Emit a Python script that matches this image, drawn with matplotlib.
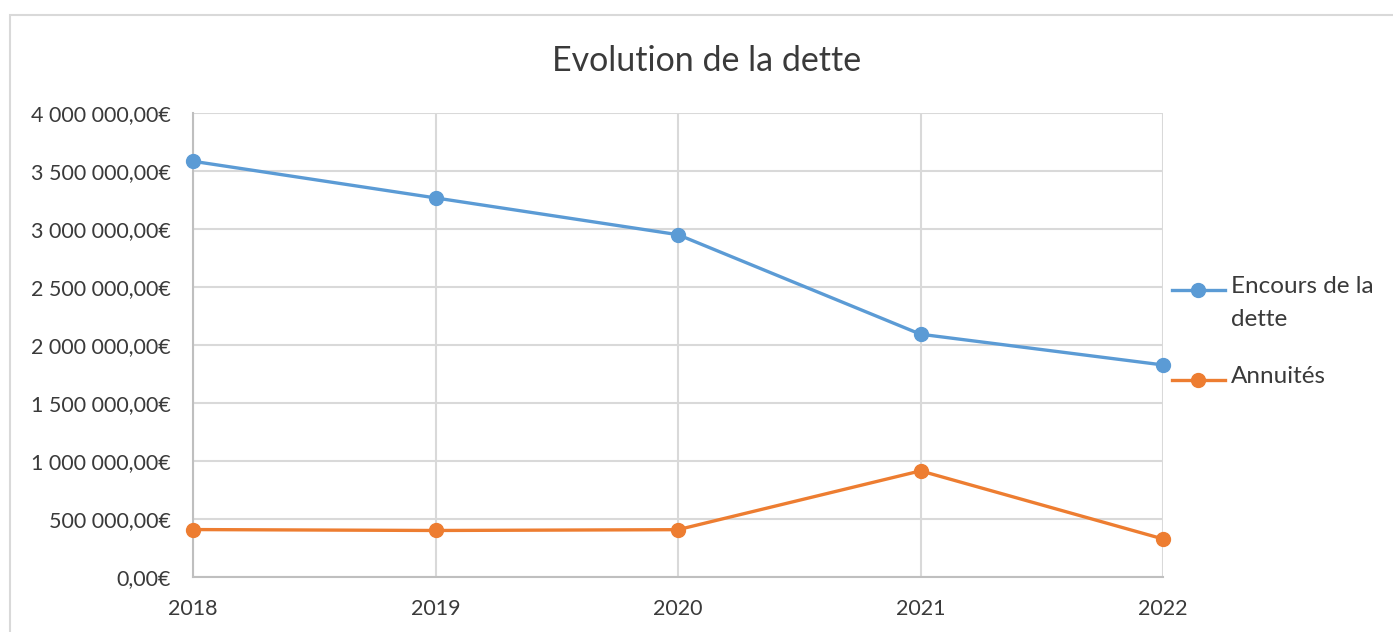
import matplotlib
matplotlib.use('Agg')
import matplotlib.pyplot as plt
from matplotlib.lines import Line2D
from matplotlib.patches import Rectangle
from matplotlib.ticker import FuncFormatter

# data
years = [2018, 2019, 2020, 2021, 2022]
encours = [3584000, 3268000, 2951000, 2093000, 1828000]
annuites = [409000, 401000, 408000, 915000, 328000]
series_names = ['Encours de la\ndette', 'Annuités']
y_ticks = [0, 500000, 1000000, 1500000, 2000000, 2500000, 3000000, 3500000, 4000000]

BLUE = '#5B9BD5'
ORANGE = '#ED7D31'
GRID = '#D9D9D9'
TEXT = '#3A3A3A'

plt.rcParams['font.family'] = ['Lato', 'DejaVu Sans']


def euro_fmt(v, pos):
    # french style: space for thousands, comma for decimals
    s = '{:,.2f}'.format(v).replace(',', ' ').replace('.', ',')
    return s + '€'


fig = plt.figure(figsize=(13.93, 6.32), dpi=100)
W, H = 1393, 632
ax = fig.add_axes([193 / W, 1 - 577 / H, (1163 - 193) / W, (577 - 113) / H])

# outer chart border (cut off on the right and bottom)
fig.add_artist(Rectangle((9.5 / W, -0.1), 1.2, 1 - 14.5 / H + 0.1, transform=fig.transFigure,
                         fill=False, edgecolor=GRID, linewidth=1.5))

ax.plot(years, encours, color=BLUE, lw=2.4, marker='o', ms=10, clip_on=False, zorder=3)
ax.plot(years, annuites, color=ORANGE, lw=2.4, marker='o', ms=10, clip_on=False, zorder=3)

ax.set_xlim(years[0], years[-1])
ax.set_ylim(0, 4000000)
ax.set_xticks(years)
ax.set_yticks(y_ticks)
ax.yaxis.set_major_formatter(FuncFormatter(euro_fmt))
ax.grid(True, color=GRID, lw=1.5)
ax.set_axisbelow(True)
ax.tick_params(length=0, labelsize=15.5, colors=TEXT)
ax.tick_params(axis='y', pad=16)
ax.tick_params(axis='x', pad=16)
for s in ['top', 'right']:
    ax.spines[s].set_visible(False)
for s in ['left', 'bottom']:
    ax.spines[s].set_color('#BFBFBF')
    ax.spines[s].set_linewidth(1.5)

fig.text(707 / W, 1 - 61 / H, 'Evolution de la dette', ha='center', va='center',
         fontsize=24.5, color=TEXT)

# legend on the right
leg_y = [290, 380]
for name, col, y in zip(series_names, [BLUE, ORANGE], leg_y):
    fig.add_artist(Line2D([1172 / W, 1225 / W], [1 - y / H, 1 - y / H], transform=fig.transFigure,
                          color=col, lw=2.4))
    fig.add_artist(Line2D([1198 / W], [1 - y / H], transform=fig.transFigure,
                          color=col, marker='o', ms=10))
    fig.text(1231 / W, 1 - (y - 14) / H, name, ha='left', va='top', fontsize=17.5,
             color=TEXT, linespacing=1.7)

fig.savefig('out.png', dpi=100)
